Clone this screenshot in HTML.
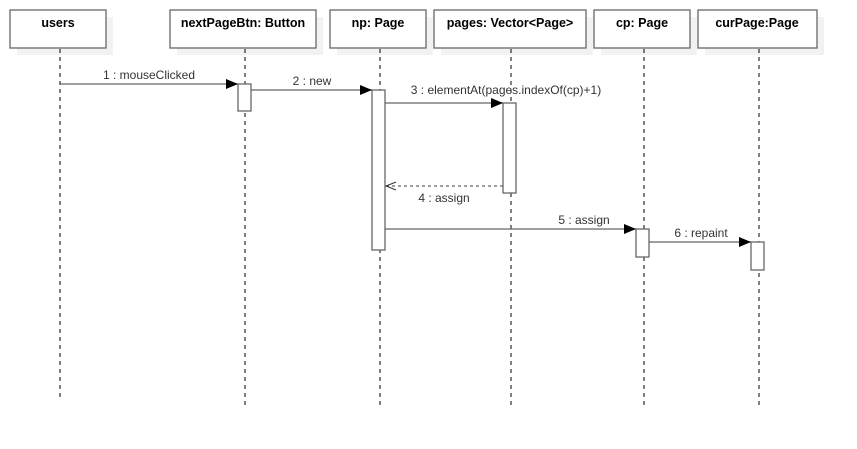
<!DOCTYPE html>
<html><head><meta charset="utf-8"><style>body{margin:0;background:#fff}svg{display:block}</style></head><body>
<svg width="857" height="449" xmlns="http://www.w3.org/2000/svg" font-family="Liberation Sans, sans-serif" font-size="12">
<defs>
<marker id="f" markerWidth="12" markerHeight="10" refX="12" refY="5" orient="auto" markerUnits="userSpaceOnUse"><path d="M0,0 L12,5 L0,10 Z" fill="#000"/></marker>
<marker id="o" markerWidth="12" markerHeight="10" refX="11" refY="5" orient="auto" markerUnits="userSpaceOnUse"><path d="M1,1 L11,5 L1,9" fill="none" stroke="#333" stroke-width="1"/></marker>
</defs>
<g fill="#f2f2f2">
<rect x="17" y="17" width="96" height="38"/><rect x="177" y="17" width="146" height="38"/><rect x="337" y="17" width="96" height="38"/><rect x="441" y="17" width="152" height="38"/><rect x="601" y="17" width="96" height="38"/><rect x="705" y="17" width="119" height="38"/>
</g>
<g fill="#fff" stroke="#666" stroke-width="1.3">
<rect x="10" y="10" width="96" height="38"/><rect x="170" y="10" width="146" height="38"/><rect x="330" y="10" width="96" height="38"/><rect x="434" y="10" width="152" height="38"/><rect x="594" y="10" width="96" height="38"/><rect x="698" y="10" width="119" height="38"/>
</g>
<g font-weight="bold" font-size="12.5" text-anchor="middle" fill="#000">
<text x="58" y="27">users</text><text x="243" y="27">nextPageBtn: Button</text><text x="378" y="27">np: Page</text><text x="510" y="27">pages: Vector&lt;Page&gt;</text><text x="642" y="27">cp: Page</text><text x="757" y="27">curPage:Page</text>
</g>
<g stroke="#000" stroke-dasharray="4,4" stroke-width="1">
<line x1="60" y1="49" x2="60" y2="401"/><line x1="245" y1="49" x2="245" y2="407"/><line x1="380" y1="49" x2="380" y2="407"/><line x1="511" y1="49" x2="511" y2="407"/><line x1="644" y1="49" x2="644" y2="407"/><line x1="759" y1="49" x2="759" y2="407"/>
</g>
<g fill="#fff" stroke="#666" stroke-width="1.3">
<rect x="238" y="84" width="13" height="27"/><rect x="372" y="90" width="13" height="160"/><rect x="503" y="103" width="13" height="90"/><rect x="636" y="229" width="13" height="28"/><rect x="751" y="242" width="13" height="28"/>
</g>
<g stroke="#666" stroke-width="1.3" fill="none">
<line x1="60" y1="84" x2="238" y2="84" marker-end="url(#f)"/>
<line x1="251" y1="90" x2="372" y2="90" marker-end="url(#f)"/>
<line x1="385" y1="103" x2="503" y2="103" marker-end="url(#f)"/>
<line x1="503" y1="186" x2="386" y2="186" stroke-dasharray="3,3" marker-end="url(#o)"/>
<line x1="385" y1="229" x2="636" y2="229" marker-end="url(#f)"/>
<line x1="649" y1="242" x2="751" y2="242" marker-end="url(#f)"/>
</g>
<g fill="#333" text-anchor="middle">
<text x="149" y="79">1 : mouseClicked</text>
<text x="312" y="85">2 : new</text>
<text x="506" y="94">3 : elementAt(pages.indexOf(cp)+1)</text>
<text x="444" y="202">4 : assign</text>
<text x="584" y="224">5 : assign</text>
<text x="701" y="237">6 : repaint</text>
</g>
</svg>
</body></html>
